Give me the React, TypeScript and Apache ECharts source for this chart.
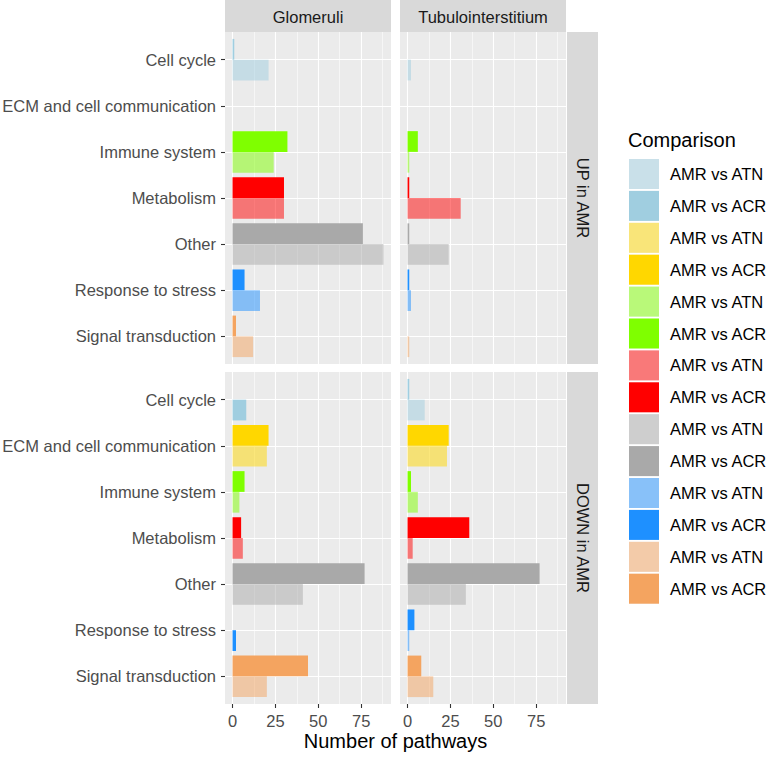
import React, { useEffect, useRef } from 'react';
import * as echarts from 'echarts';

const categories = ['Cell cycle', 'ECM and cell communication', 'Immune system', 'Metabolism', 'Other', 'Response to stress', 'Signal transduction'];
const columns = ['Glomeruli', 'Tubulointerstitium'];
const rows = ['UP in AMR', 'DOWN in AMR'];
const comparisons = ['AMR vs ATN', 'AMR vs ACR'];
const categoryColors = ['#A0CEE0', '#FFD700', '#7FFF00', '#FF0000', '#A9A9A9', '#1E90FF', '#F4A460'];
const xTicks = [0, 25, 50, 75];
const xMinorTicks = [12.5, 37.5, 62.5, 87.5];

// null = no bar for that comparison
const glomUpACR = [1, null, 32, 30, 76, 7, 2];
const glomUpATN = [21, null, 24, 30, 88, 16, 12];
const tubUpACR = [null, null, 6, 1, 1, 1, null];
const tubUpATN = [2, null, 1, 31, 24, 2, 1];
const glomDownACR = [8, 21, 7, 5, 77, 2, 44];
const glomDownATN = [null, 20, 4, 6, 41, null, 20];
const tubDownACR = [1, 24, 2, 36, 77, 4, 8];
const tubDownATN = [10, 23, 6, 3, 34, 1, 15];

const FONT = '"Liberation Sans", Arial, Helvetica, sans-serif';

function withAlpha(hex: string, a: number) {
  const r = parseInt(hex.slice(1, 3), 16);
  const g = parseInt(hex.slice(3, 5), 16);
  const b = parseInt(hex.slice(5, 7), 16);
  return `rgba(${r},${g},${b},${a})`;
}

export default function App() {
  const ref = useRef<HTMLDivElement>(null);
  useEffect(() => {
    if (!ref.current) return;
    const chart = echarts.init(ref.current, null, { renderer: 'svg' });

    const panelData = [
      { acr: glomUpACR, atn: glomUpATN },
      { acr: tubUpACR, atn: tubUpATN },
      { acr: glomDownACR, atn: glomDownATN },
      { acr: tubDownACR, atn: tubDownATN },
    ];
    const all: number[] = [];
    panelData.forEach((pd) => {
      pd.acr.forEach((v) => v != null && all.push(v));
      pd.atn.forEach((v) => v != null && all.push(v));
    });
    const dataMax = Math.max(...all);
    const xMin = -0.05 * dataMax;
    const xMax = 1.05 * dataMax;

    const panelLeft = [225, 400];
    const panelWidth = 166;
    const panelTop = [32, 372];
    const panelHeight = 332;
    const unit = panelHeight / (categories.length + 0.2);

    const grids: any[] = [];
    const xAxes: any[] = [];
    const yAxes: any[] = [];
    const series: any[] = [];
    const graphic: any[] = [];

    for (let p = 0; p < 4; p++) {
      const r = Math.floor(p / 2), c = p % 2;
      grids.push({
        left: panelLeft[c], top: panelTop[r], width: panelWidth, height: panelHeight,
        show: true, backgroundColor: '#EBEBEB', borderWidth: 0, outerBoundsMode: 'none',
      });
    }
    for (let p = 0; p < 4; p++) {
      const r = Math.floor(p / 2), c = p % 2;
      grids.push({
        left: panelLeft[c], top: panelTop[r] + unit * 0.1, width: panelWidth, height: unit * categories.length,
        show: false, outerBoundsMode: 'none',
      });
    }
    for (let p = 0; p < 4; p++) {
      const r = Math.floor(p / 2);
      xAxes.push({
        type: 'value', gridIndex: p, min: xMin, max: xMax, position: 'bottom',
        axisLine: { show: false, onZero: false },
        axisTick: { show: r === 1, customValues: xTicks, length: 4, lineStyle: { color: '#333333', width: 1.1 } },
        axisLabel: { show: r === 1, customValues: xTicks, color: '#4D4D4D', fontSize: 16.5, margin: 8, fontFamily: FONT },
        splitLine: { show: true, lineStyle: { color: '#FFFFFF', width: 1.1 } },
      });
      xAxes.push({
        type: 'value', gridIndex: p, min: xMin, max: xMax, position: 'bottom',
        axisLine: { show: false, onZero: false },
        axisTick: { show: false, customValues: xMinorTicks },
        axisLabel: { show: false },
        splitLine: { show: true, lineStyle: { color: '#FFFFFF', width: 0.55 } },
      });
    }
    for (let p = 0; p < 4; p++) {
      xAxes.push({ type: 'value', gridIndex: 4 + p, min: xMin, max: xMax, show: false, axisLine: { onZero: false } });
    }
    for (let p = 0; p < 4; p++) {
      yAxes.push({
        type: 'value', gridIndex: p, min: -0.6, max: categories.length - 0.4, inverse: true,
        axisLine: { show: false, onZero: false },
        axisTick: { show: false, customValues: categories.map((_, i) => i) },
        axisLabel: { show: false },
        splitLine: { show: true, lineStyle: { color: '#FFFFFF', width: 1.1 } },
      });
    }
    for (let p = 0; p < 4; p++) {
      const c = p % 2;
      yAxes.push({
        type: 'category', gridIndex: 4 + p, data: categories, inverse: true,
        axisLine: { show: false, onZero: false },
        axisTick: { show: c === 0, alignWithLabel: true, length: 4, lineStyle: { color: '#333333', width: 1.1 } },
        axisLabel: { show: c === 0, color: '#4D4D4D', fontSize: 16.5, margin: 9, fontFamily: FONT },
        splitLine: { show: false },
      });
    }
    panelData.forEach((pd, p) => {
      const upper = categories.map((_, i) =>
        pd.acr[i] != null && pd.atn[i] != null
          ? { value: pd.acr[i], itemStyle: { color: categoryColors[i] } }
          : '-'
      );
      const lower = categories.map((_, i) =>
        pd.atn[i] != null
          ? { value: pd.atn[i], itemStyle: { color: withAlpha(categoryColors[i], 0.5) } }
          : pd.acr[i] != null
          ? { value: pd.acr[i], itemStyle: { color: categoryColors[i] } }
          : '-'
      );
      [upper, lower].forEach((d) => {
        series.push({
          type: 'bar', xAxisIndex: 8 + p, yAxisIndex: 4 + p, data: d,
          barGap: '0%', barCategoryGap: '10%', silent: true,
        });
      });
    });

    columns.forEach((name, c) => {
      graphic.push({
        type: 'rect', shape: { x: panelLeft[c], y: 0, width: panelWidth, height: panelTop[0] },
        style: { fill: '#D9D9D9' }, silent: true,
      });
      graphic.push({
        type: 'text', x: panelLeft[c] + panelWidth / 2, y: 17,
        style: { text: name, fill: '#1A1A1A', fontSize: 16.5, fontFamily: FONT, textAlign: 'center', textVerticalAlign: 'middle' },
        silent: true,
      });
    });
    const stripX = panelLeft[1] + panelWidth + 1;
    rows.forEach((name, r) => {
      graphic.push({
        type: 'rect', shape: { x: stripX, y: panelTop[r], width: 31, height: panelHeight },
        style: { fill: '#D9D9D9' }, silent: true,
      });
      graphic.push({
        type: 'text', x: stripX + 16, y: panelTop[r] + panelHeight / 2, rotation: -Math.PI / 2,
        style: { text: name, fill: '#1A1A1A', fontSize: 16.5, fontFamily: FONT, textAlign: 'center', textVerticalAlign: 'middle' },
        silent: true,
      });
    });
    graphic.push({
      type: 'text', x: (panelLeft[0] + panelLeft[1] + panelWidth) / 2, y: 741,
      style: { text: 'Number of pathways', fill: '#000000', fontSize: 20, fontFamily: FONT, textAlign: 'center', textVerticalAlign: 'middle' },
      silent: true,
    });
    graphic.push({
      type: 'text', x: 628, y: 140,
      style: { text: 'Comparison', fill: '#000000', fontSize: 20, fontFamily: FONT, textAlign: 'left', textVerticalAlign: 'middle' },
      silent: true,
    });
    let k = 0;
    categoryColors.forEach((col) => {
      comparisons.forEach((label, j) => {
        const top = 159 + k * 31.9;
        graphic.push({
          type: 'rect', shape: { x: 629, y: top, width: 30, height: 30 },
          style: { fill: '#F2F2F2' }, silent: true,
        });
        graphic.push({
          type: 'rect', shape: { x: 629, y: top, width: 30, height: 30 },
          style: { fill: j === 0 ? withAlpha(col, 0.5) : col }, silent: true,
        });
        graphic.push({
          type: 'text', x: 670, y: top + 15,
          style: { text: label, fill: '#000000', fontSize: 16.5, fontFamily: FONT, textAlign: 'left', textVerticalAlign: 'middle' },
          silent: true,
        });
        k++;
      });
    });

    chart.setOption({
      animation: false,
      backgroundColor: '#FFFFFF',
      textStyle: { fontFamily: FONT },
      grid: grids,
      xAxis: xAxes,
      yAxis: yAxes,
      series,
      graphic,
    });
    return () => chart.dispose();
  }, []);
  return <div ref={ref} style={{ position: 'absolute', left: 0, top: 0, width: 778, height: 760 }} />;
}
